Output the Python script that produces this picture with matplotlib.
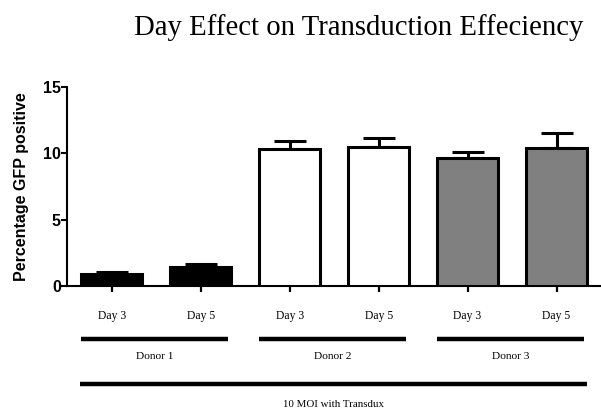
import matplotlib
matplotlib.use("Agg")
import matplotlib.pyplot as plt
import matplotlib.transforms as mtransforms
import numpy as np

days = ["Day 3", "Day 5", "Day 3", "Day 5", "Day 3", "Day 5"]
means = [0.9, 1.4, 10.3, 10.45, 9.67, 10.38]
errs = [0.13, 0.25, 0.6, 0.75, 0.45, 1.17]
colors = ["black", "black", "white", "white", "#808080", "#808080"]
donors = ["Donor 1", "Donor 2", "Donor 3"]
condition = "10 MOI with Transdux"

serif = ["Liberation Serif", "DejaVu Serif"]
sans = ["Liberation Sans", "DejaVu Sans"]

fig = plt.figure(figsize=(6.01, 4.15), dpi=100)
ax = fig.add_axes([0.1123, 0.311, 0.8877, 0.479])

x = np.arange(len(means))
w = 0.686
ax.bar(x, means, width=w, color=colors, edgecolor="black", linewidth=2.2, zorder=3)
ax.errorbar(x, means, yerr=[np.zeros(len(errs)), errs], fmt="none", ecolor="black",
            elinewidth=2.2, capsize=11.5, capthick=2.2, zorder=2)

ax.set_xlim(-0.5, 5.5)
ax.set_ylim(0, 15)
ax.set_yticks([0, 5, 10, 15])
ax.set_xticks(x)
ax.set_xticklabels(days, family=serif, fontsize=8.4)
for lab in ax.get_yticklabels():
    lab.set_family(sans)
    lab.set_fontweight("bold")
    lab.set_fontsize(11.5)
ax.tick_params(axis="y", length=4, width=1.5, pad=0.8)
ax.tick_params(axis="x", length=4.5, width=1.6, pad=13)

for s in ["top", "right"]:
    ax.spines[s].set_visible(False)
ax.spines["left"].set_linewidth(1.5)
ax.spines["bottom"].set_linewidth(1.5)

ax.set_ylabel("Percentage GFP positive", family=sans, fontweight="bold", fontsize=11.5)
ax.yaxis.set_label_coords(-0.073, 0.5)

# group brackets under the axis
trans = mtransforms.blended_transform_factory(ax.transData, ax.transAxes)
for i, name in enumerate(donors):
    x0 = x[2 * i] - w / 2
    x1 = x[2 * i + 1] + 0.31
    ax.plot([x0, x1], [-0.266, -0.266], color="black", lw=3.2, transform=trans,
            clip_on=False, solid_capstyle="butt")
    ax.text((x0 + x1) / 2, -0.357, name, transform=trans, ha="center", va="center",
            family=serif, fontsize=8.2)

ax.plot([x[0] - 0.355, x[-1] + 0.34], [-0.492, -0.492], color="black", lw=3.2,
        transform=trans, clip_on=False, solid_capstyle="butt")
ax.text((x[0] - 0.355 + x[-1] + 0.34) / 2, -0.598, condition, transform=trans,
        ha="center", va="center", family=serif, fontsize=7.8)

fig.text(0.596, 0.933, "Day Effect on Transduction Effeciency", ha="center", va="center",
         family=serif, fontsize=20.7)

fig.savefig("out.png", dpi=100)
